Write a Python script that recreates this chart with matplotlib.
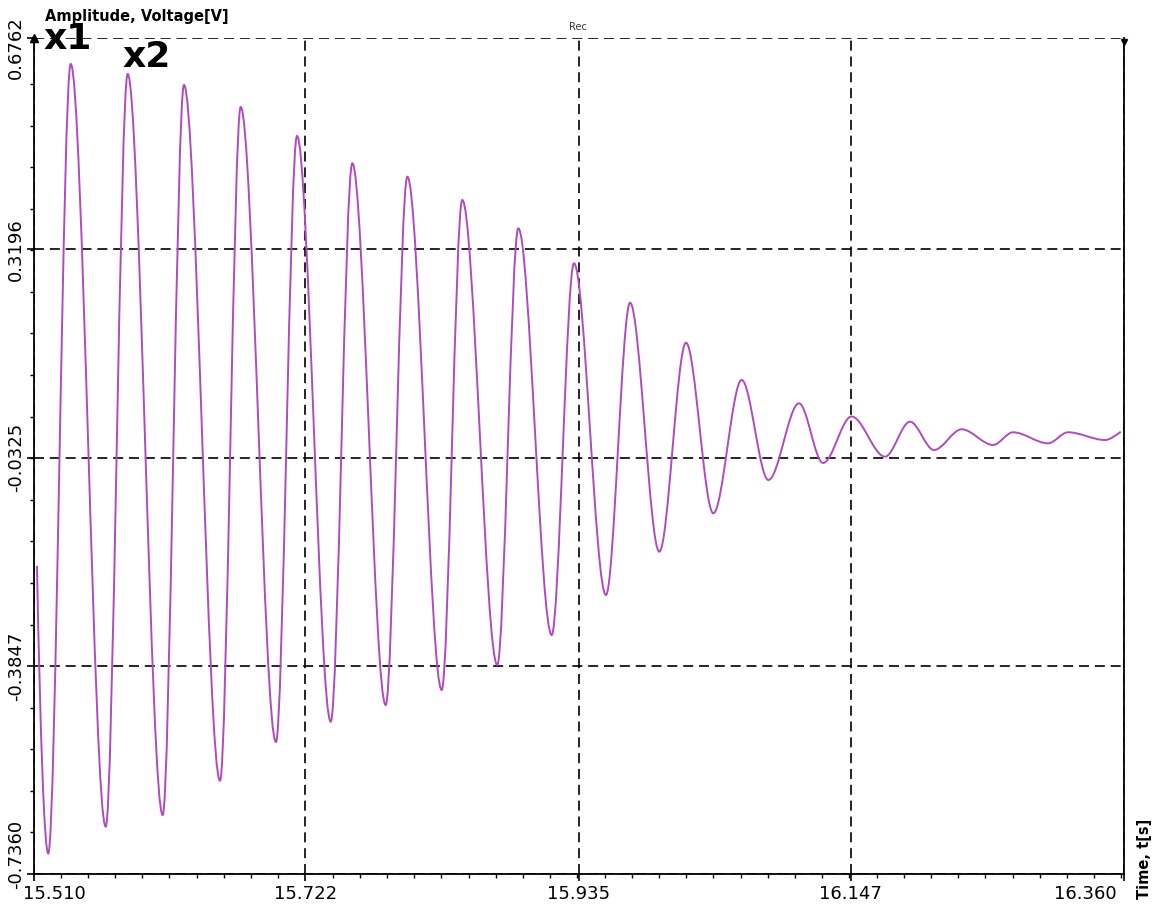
import matplotlib
matplotlib.use('Agg')
import matplotlib.pyplot as plt
from matplotlib.path import Path
from matplotlib.patches import PathPatch
from matplotlib.ticker import FixedLocator, AutoMinorLocator
from matplotlib.transforms import ScaledTranslation

# turning points of the recorded signal (start, troughs/peaks alternating, end)
t_ext = [15.5127, 15.5215, 15.5390, 15.5663, 15.5834, 15.6107, 15.6273, 15.6554,
         15.6715, 15.6990, 15.7154, 15.7417, 15.7585, 15.7845, 15.8014, 15.8282,
         15.8442, 15.8715, 15.8879, 15.9139, 15.9313, 15.9562, 15.9750, 15.9978,
         16.0186, 16.0399, 16.0620, 16.0828, 16.1067, 16.1254, 16.1476, 16.1737,
         16.1932, 16.2119, 16.2335, 16.2579, 16.2735, 16.3008, 16.3164, 16.3452,
         16.3575]
v_ext = [-0.2155, -0.7013, 0.6328, -0.6560, 0.6159, -0.6363, 0.5973, -0.5783,
         0.5601, -0.5129, 0.5111, -0.4786, 0.4650, -0.4504, 0.4423, -0.4250,
         0.4030, -0.3828, 0.3551, -0.3321, 0.2960, -0.2645, 0.2294, -0.1913,
         0.1618, -0.1264, 0.0988, -0.0702, 0.0594, -0.0414, 0.0371, -0.0308,
         0.0283, -0.0195, 0.0155, -0.0110, 0.0104, -0.0082, 0.0104, -0.0026,
         0.0114]

x_ticks = [15.510, 15.722, 15.935, 16.147, 16.360]
x_labels = ['15.510', '15.722', '15.935', '16.147', '16.360']
y_ticks = [-0.7360, -0.3847, -0.0325, 0.3196, 0.6762]
y_labels = ['-0.7360', '-0.3847', '-0.0325', '0.3196', '0.6762']

W, H = 1155, 909
fig = plt.figure(figsize=(W / 100, H / 100), dpi=100)
ax = fig.add_axes([33.5 / W, 1 - 874 / H, (1124 - 33.5) / W, (874 - 38.3) / H])
ax.set_xlim(x_ticks[0], x_ticks[-1])
ax.set_ylim(y_ticks[0], y_ticks[-1])

# smooth half-waves between the turning points
verts = [(t_ext[0], v_ext[0])]
codes = [Path.MOVETO]
n = len(t_ext)
for i in range(1, n):
    t0, v0, t1, v1 = t_ext[i - 1], v_ext[i - 1], t_ext[i], v_ext[i]
    dt = t1 - t0
    if i == 1:
        c1 = (t0 + 0.3 * dt, v0 + 0.6 * (v1 - v0))
    else:
        c1 = (t0 + dt / 3, v0)
    if i == n - 1:
        c2 = (t1 - 0.3 * dt, v1 - 0.4 * (v1 - v0))
    else:
        c2 = (t1 - dt / 3, v1)
    verts += [c1, c2, (t1, v1)]
    codes += [Path.CURVE4] * 3
ax.add_patch(PathPatch(Path(verts, codes), fill=False, edgecolor='#b04ac0',
                       lw=1.4, zorder=3))

# axes styling
ax.spines['top'].set_visible(False)
for s in ['left', 'bottom', 'right']:
    ax.spines[s].set_linewidth(1.3)
    ax.spines[s].set_zorder(4)
ax.xaxis.set_major_locator(FixedLocator(x_ticks))
ax.yaxis.set_major_locator(FixedLocator(y_ticks))
ax.set_xticklabels(x_labels)
ax.set_yticklabels(y_labels, rotation=90, va='center')
ax.xaxis.set_minor_locator(AutoMinorLocator(10))
ax.yaxis.set_minor_locator(AutoMinorLocator(5))
ax.tick_params(axis='both', which='major', direction='out', length=5, width=1.2,
               labelsize=13, colors='black')
ax.tick_params(axis='x', which='major', pad=3)
ax.tick_params(axis='y', which='major', pad=1)
ax.tick_params(axis='both', which='minor', direction='out', length=3, width=1)
ax.grid(True, which='major', color='black', lw=1.2, linestyle=(0, (6, 3.5)),
        zorder=1)
ax.set_axisbelow(True)

# move the end labels inwards, as in the original
xl = ax.get_xticklabels()
xl[0].set_transform(xl[0].get_transform() + ScaledTranslation(15 / 72, 0, fig.dpi_scale_trans))
xl[-1].set_transform(xl[-1].get_transform() + ScaledTranslation(-28 / 72, 0, fig.dpi_scale_trans))
yl = ax.get_yticklabels()
yl[0].set_transform(yl[0].get_transform() + ScaledTranslation(0, 14 / 72, fig.dpi_scale_trans))
yl[-1].set_transform(yl[-1].get_transform() + ScaledTranslation(0, -7 / 72, fig.dpi_scale_trans))

# axis arrow and corner mark
ax.plot([0], [1], marker='^', color='black', ms=6, transform=ax.transAxes,
        clip_on=False, zorder=5)
ax.plot([1], [0.995], marker='v', color='black', ms=5, transform=ax.transAxes,
        clip_on=False, zorder=5)

fig.text(45 / W, 1 - 16 / H, 'Amplitude, Voltage[V]', fontsize=10.5,
         fontweight='bold', va='center', ha='left')
fig.text(578 / W, 1 - 27 / H, 'Rec', fontsize=7, color='#333333',
         va='center', ha='center')
fig.text(1145 / W, 1 - 859 / H, 'Time, t[s]', fontsize=10.5, fontweight='bold',
         rotation=90, va='center', ha='center')
fig.text(43 / W, 1 - 39 / H, 'x1', fontsize=26, fontweight='heavy',
         va='center', ha='left')
fig.text(122 / W, 1 - 57 / H, 'x2', fontsize=26, fontweight='heavy',
         va='center', ha='left')

fig.savefig('out.png', dpi=100, facecolor='white')
